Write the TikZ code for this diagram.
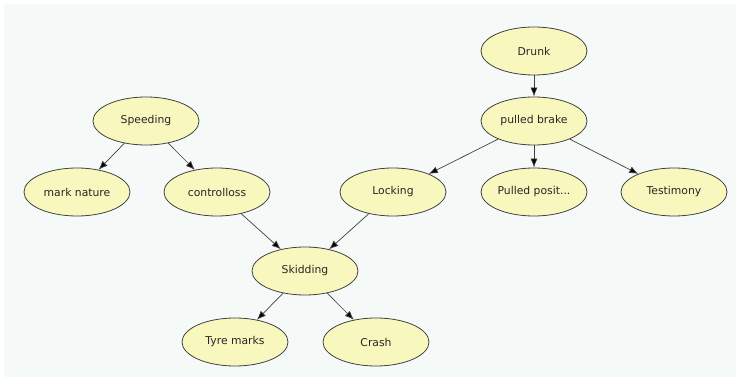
\documentclass[tikz,border=0pt]{standalone}
\usepackage{fontspec}
\setmainfont{DejaVu Sans}
\usetikzlibrary{shapes.geometric,arrows.meta}
\definecolor{bgpale}{HTML}{F5F9F7}
\definecolor{nodefill}{HTML}{F8F8BE}
\definecolor{linegray}{HTML}{404040}
\begin{document}
\begin{tikzpicture}[x=1pt,y=-1pt,
    var/.style={ellipse, draw=linegray, fill=nodefill, line width=0.8pt,
      minimum width=106pt, minimum height=48pt, inner sep=0pt,
      font=\fontsize{10.8}{12}\selectfont, text=black!85},
    link/.style={draw=linegray, line width=0.7pt, -{Latex[length=9pt,width=7pt,fill=black]}}]
  \useasboundingbox (0,0) rectangle (738,379);
  \fill[bgpale] (4,4) rectangle (736,377);
  % nodes
  \node[var] (drunk) at (534,51) {Drunk};
  \node[var] (brake) at (534,121) {pulled brake};
  \node[var] (speed) at (146,121) {Speeding};
  \node[var] (mark) at (77,192) {mark nature};
  \node[var] (control) at (217,192) {controlloss};
  \node[var] (lock) at (393,192) {Locking};
  \node[var] (pulled) at (534,192) {Pulled posit...};
  \node[var] (testi) at (674,192) {Testimony};
  \node[var] (skid) at (305,271) {Skidding};
  \node[var] (tyre) at (235,342) {Tyre marks};
  \node[var] (crash) at (376,342) {Crash};
  % links
  \draw[link] (drunk) -- (brake);
  \draw[link] (brake) -- (lock);
  \draw[link] (brake) -- (pulled);
  \draw[link] (brake) -- (testi);
  \draw[link] (speed) -- (mark);
  \draw[link] (speed) -- (control);
  \draw[link] (control) -- (skid);
  \draw[link] (lock) -- (skid);
  \draw[link] (skid) -- (tyre);
  \draw[link] (skid) -- (crash);
\end{tikzpicture}
\end{document}
